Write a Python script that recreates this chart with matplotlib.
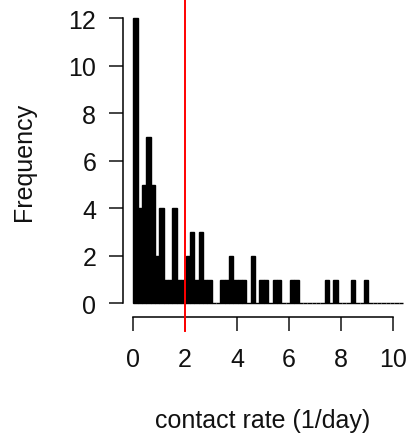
import matplotlib
matplotlib.use("Agg")
import matplotlib.pyplot as plt
import numpy as np

# histogram of contact rates, counts per bin
BIN_WIDTH = 0.1677
COUNTS = [
    12, 4, 5, 7, 5, 2, 4, 1, 1, 4,
    1, 1, 2, 3, 1, 3, 1, 1, 0, 0,
    1, 1, 2, 1, 1, 1, 0, 2, 0, 1,
    1, 0, 1, 1, 0, 0, 1, 1, 0, 0,
    0, 0, 0, 0, 1, 0, 1, 0, 0, 0,
    1, 0, 0, 1, 0, 0, 0, 0, 0, 0,
    0, 0,
]
CUTOFF = 2.0
X_TICKS = [0, 2, 4, 6, 8, 10]
Y_TICKS = [0, 2, 4, 6, 8, 10, 12]

plt.rcParams["font.family"] = ["Liberation Sans", "DejaVu Sans"]

W, H = 409, 435
fig = plt.figure(figsize=(W / 100, H / 100), dpi=100)
# axes box in pixels: x 0..10 -> 133.3..392.7, y 0..12 -> 304.3..19.3
ax = fig.add_axes([133.3 / W, 1 - 304.3 / H, (392.7 - 133.3) / W, (304.3 - 19.3) / H])

left_edges = np.arange(len(COUNTS)) * BIN_WIDTH
ax.bar(left_edges, COUNTS, width=BIN_WIDTH, align="edge",
       color="black", edgecolor="black", linewidth=1.0, clip_on=False)
ax.axvline(CUTOFF, ymin=-0.096, ymax=1.07, color="red", linewidth=1.4,
           clip_on=False, zorder=3)

ax.set_xlim(0, 10)
ax.set_ylim(0, 12)
ax.set_xticks(X_TICKS)
ax.set_yticks(Y_TICKS)

for s in ("top", "right"):
    ax.spines[s].set_visible(False)
ax.spines["left"].set_position(("outward", 7.6))
ax.spines["left"].set_bounds(0, 12)
ax.spines["bottom"].set_position(("outward", 9.6))
ax.spines["bottom"].set_bounds(0, 10)
for s in ("left", "bottom"):
    ax.spines[s].set_linewidth(1.1)

ax.tick_params(axis="both", direction="out", length=10, width=1.1,
               labelsize=18, colors="#111111")
ax.tick_params(axis="y", pad=9)
ax.tick_params(axis="x", pad=12)

ax.set_xlabel("contact rate (1/day)", fontsize=18, color="#111111", va="center")
ax.xaxis.set_label_coords(0.5, (304.3 - 421) / 285)
ax.set_ylabel("Frequency", fontsize=18, color="#111111", va="center")
ax.yaxis.set_label_coords((24 - 133.3) / 259.4, 0.5)

fig.savefig("out.png", dpi=100)
